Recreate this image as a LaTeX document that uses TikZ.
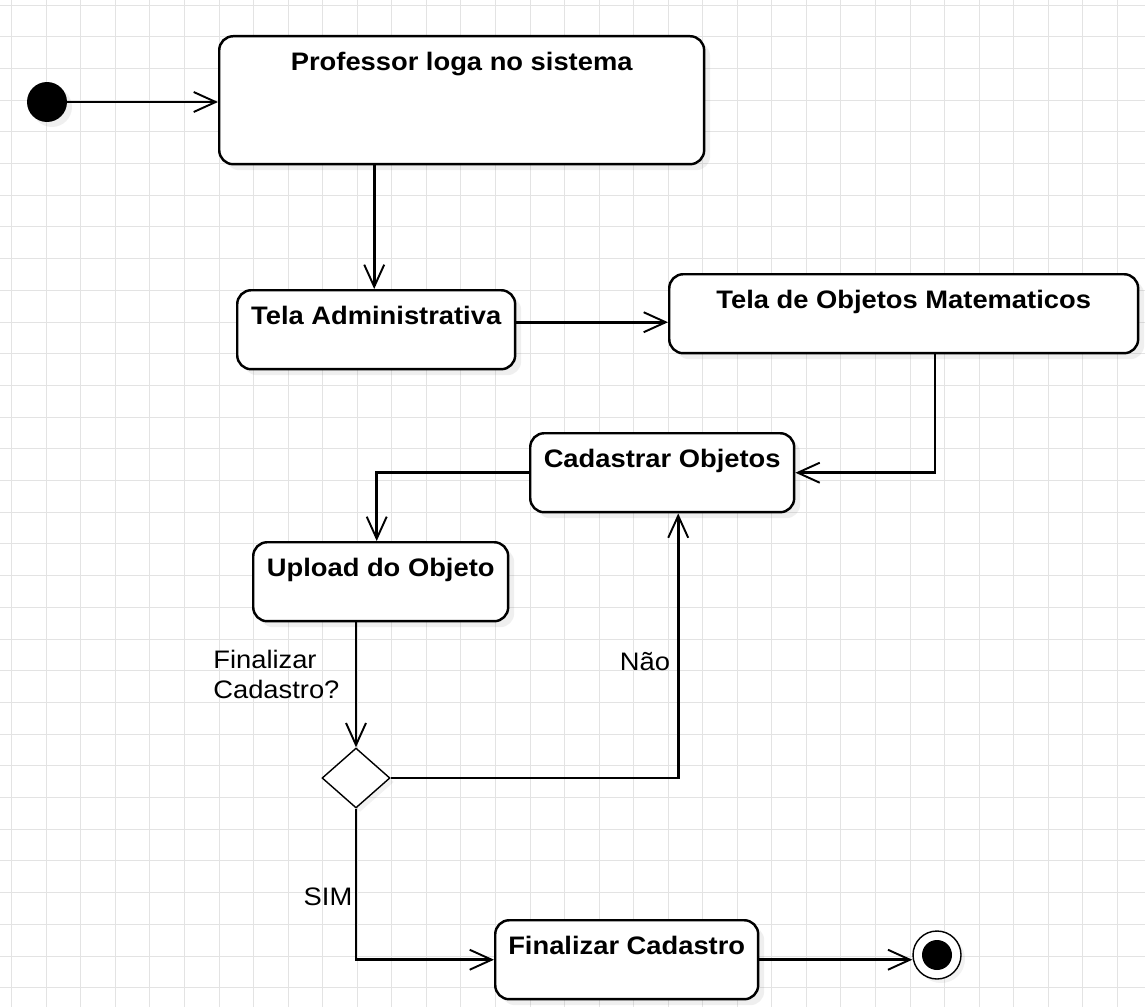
\documentclass[tikz,border=0pt]{standalone}
\usepackage{fontspec}
\setmainfont{Liberation Sans}[FakeStretch=1.08]
\usepackage{tikz}
\usetikzlibrary{shapes.geometric, arrows.meta}
\usetikzlibrary{calc, shadows}
\tikzstyle{state} = [draw=black, line width=1.4pt, rounded corners=0.28cm, fill=white, inner xsep=0pt, inner ysep=0pt, text height=0.68cm, text depth=0.9cm, font=\fontsize{14.4}{17}\bfseries, anchor=north west, drop shadow={opacity=0.12, shadow xshift=0.12cm, shadow yshift=-0.12cm}]
\tikzstyle{arrow} = [line width=1.5pt, -{Straight Barb[length=0.44cm, width=0.4cm, line width=1.1pt]}]

\begin{document}
\begin{tikzpicture}[x=0.02cm, y=-0.02cm]
        \tikzstyle{gridline} = [gray!22, line width=0.5pt]
        \tikzstyle{guard} = [font=\fontsize{14.4}{17}\selectfont, inner sep=0pt]

        \useasboundingbox[fill=white] (0,0) rectangle (1145,1007);
        \foreach \i in {0,...,32}{
                \draw[gridline] ({11.7+34.55*\i},0) -- ++(0,1007);
            }
        \foreach \j in {0,...,31}{
                \draw[gridline] (0,{5+31.7*\j}) -- ++(1145,0);
            }

        \node (start) at (47, 102) [circle, fill=black, minimum size=0.8cm, inner sep=0pt, drop shadow={opacity=0.12, shadow xshift=0.1cm, shadow yshift=-0.1cm}] {};
        \node (login) at (218, 35) [state, minimum width=9.7cm, text depth=1.88cm] {Professor loga no sistema};
        \node (admin) at (236, 289) [state, minimum width=5.56cm] {Tela Administrativa};
        \node (telaobj) at (668, 273) [state, minimum width=9.38cm] {Tela de Objetos Matematicos};
        \node (cadastrar) at (529, 432) [state, minimum width=5.28cm] {Cadastrar Objetos};
        \node (upload) at (252, 541) [state, minimum width=5.1cm] {Upload do Objeto};
        \node (decisao) at (356, 778) [diamond, draw=black, line width=0.8pt, fill=white, minimum width=1.36cm, minimum height=1.2cm, inner sep=0pt, drop shadow={opacity=0.1, shadow xshift=0.08cm, shadow yshift=-0.08cm}] {};
        \node (finalizar) at (494, 919) [state, minimum width=5.26cm] {Finalizar Cadastro};
        \node (fim) at (937, 955) [circle, draw=black, line width=0.8pt, fill=white, minimum size=0.96cm, inner sep=0pt, drop shadow={opacity=0.1, shadow xshift=0.08cm, shadow yshift=-0.08cm}] {};
        \fill (fim) circle (0.3cm);

        \coordinate (admintop) at ($(admin.north)+(-2,0)$);
        \coordinate (uploadtop) at ($(upload.north)+(-4,0)$);

        \draw[arrow] (start) -- (start -| login.west);
        \draw[arrow] (admintop |- login.south) -- (admintop);
        \draw[arrow] ([yshift=0.15cm]admin.east) -- ([yshift=0.15cm]admin.east -| telaobj.west);
        \draw[arrow] (telaobj.south -| 935,0) |- (cadastrar.east);
        \draw[arrow] (cadastrar.west) -| (uploadtop);
        \draw[arrow] (decisao.north |- upload.south) -- (decisao.north);
        \draw[arrow] (decisao.east) -| ($(cadastrar.south)+(16,0)$);
        \draw[arrow] (decisao.south) |- (finalizar.west);
        \draw[arrow] (finalizar.east) -- (finalizar.east -| fim.west);

        \node (lblfinal) at (213, 650) [guard, anchor=north west, align=left] {Finalizar\\Cadastro?};
        \node (lblnao) at (645, 662) [guard] {Não};
        \node (lblsim) at (328, 897) [guard] {SIM};
    \end{tikzpicture}
\end{document}
